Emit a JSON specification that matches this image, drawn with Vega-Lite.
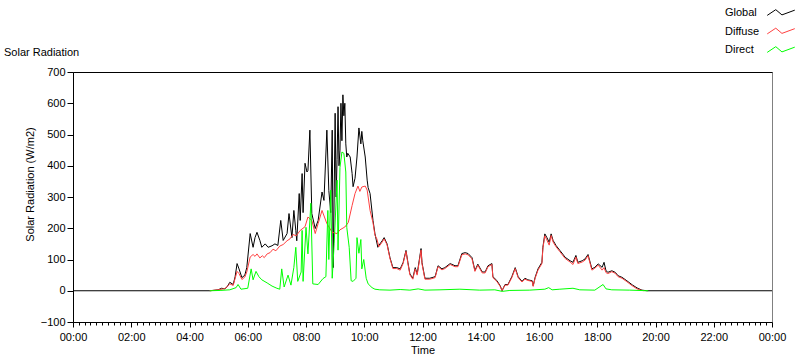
{
  "$schema": "https://vega.github.io/schema/vega-lite/v6.json",
  "width": 699,
  "height": 250,
  "autosize": {"type": "none"},
  "padding": {"left": 73, "top": 72, "right": 28, "bottom": 39},
  "background": "white",
  "title": {"text": "Solar Radiation", "anchor": "start", "frame": "group", "dx": -69, "dy": 70, "offset": 15, "fontSize": 11, "fontWeight": "normal", "font": "Liberation Sans", "color": "black"},
  "config": {
    "font": "Liberation Sans",
    "view": {"stroke": "#808080"},
    "axis": {"grid": false, "domainColor": "black", "tickColor": "black", "labelColor": "black", "titleColor": "black", "labelFontSize": 11, "titleFontSize": 11, "titleFontWeight": "normal", "labelFont": "Liberation Sans", "titleFont": "Liberation Sans"},
    "axisY": {"labelOverlap": false, "labelFlush": false},
    "line": {"strokeWidth": 1, "interpolate": "linear"}
  },
  "resolve": {"axis": {"x": "independent"}},
  "layer": [
    {
      "data": {"values": [{"m":0,"v":0},{"m":282,"v":0},{"m":299,"v":3},{"m":306,"v":8},{"m":313,"v":6},{"m":318,"v":14},{"m":323,"v":27},{"m":330,"v":20},{"m":334,"v":45},{"m":338,"v":87},{"m":342,"v":70},{"m":348,"v":42},{"m":354,"v":50},{"m":358,"v":74},{"m":365,"v":183},{"m":371,"v":139},{"m":375,"v":170},{"m":379,"v":187},{"m":385,"v":161},{"m":389,"v":139},{"m":396,"v":150},{"m":402,"v":139},{"m":410,"v":144},{"m":416,"v":150},{"m":422,"v":145},{"m":428,"v":225},{"m":433,"v":161},{"m":441,"v":183},{"m":445,"v":247},{"m":451,"v":170},{"m":455,"v":257},{"m":459,"v":193},{"m":461,"v":160},{"m":466,"v":311},{"m":468,"v":225},{"m":472,"v":375},{"m":474,"v":250},{"m":478,"v":408},{"m":482,"v":380},{"m":484,"v":385},{"m":488,"v":514},{"m":492,"v":247},{"m":499,"v":199},{"m":505,"v":225},{"m":513,"v":316},{"m":517,"v":289},{"m":523,"v":514},{"m":527,"v":321},{"m":531,"v":250},{"m":534,"v":514},{"m":536,"v":74},{"m":538,"v":300},{"m":540,"v":568},{"m":542,"v":300},{"m":544,"v":420},{"m":546,"v":589},{"m":548,"v":400},{"m":550,"v":450},{"m":552,"v":600},{"m":554,"v":480},{"m":556,"v":627},{"m":558,"v":560},{"m":560,"v":600},{"m":562,"v":470},{"m":564,"v":428},{"m":566,"v":440},{"m":571,"v":428},{"m":575,"v":375},{"m":577,"v":333},{"m":581,"v":360},{"m":585,"v":428},{"m":589,"v":521},{"m":593,"v":470},{"m":595,"v":510},{"m":597,"v":480},{"m":602,"v":428},{"m":606,"v":354},{"m":608,"v":330},{"m":612,"v":311},{"m":618,"v":225},{"m":622,"v":183},{"m":628,"v":139},{"m":630,"v":145},{"m":637,"v":160},{"m":641,"v":170},{"m":647,"v":150},{"m":653,"v":106},{"m":659,"v":74},{"m":667,"v":74},{"m":674,"v":70},{"m":680,"v":90},{"m":686,"v":129},{"m":690,"v":90},{"m":694,"v":54},{"m":700,"v":40},{"m":705,"v":74},{"m":709,"v":54},{"m":717,"v":135},{"m":719,"v":90},{"m":725,"v":40},{"m":735,"v":40},{"m":746,"v":45},{"m":752,"v":80},{"m":760,"v":70},{"m":766,"v":74},{"m":777,"v":87},{"m":787,"v":80},{"m":793,"v":80},{"m":801,"v":119},{"m":808,"v":122},{"m":814,"v":119},{"m":822,"v":106},{"m":828,"v":65},{"m":834,"v":85},{"m":843,"v":60},{"m":849,"v":60},{"m":855,"v":80},{"m":863,"v":87},{"m":865,"v":45},{"m":873,"v":33},{"m":880,"v":16},{"m":884,"v":0},{"m":890,"v":20},{"m":896,"v":20},{"m":904,"v":45},{"m":911,"v":74},{"m":917,"v":45},{"m":925,"v":30},{"m":931,"v":40},{"m":937,"v":35},{"m":946,"v":32},{"m":948,"v":16},{"m":952,"v":43},{"m":958,"v":70},{"m":966,"v":91},{"m":968,"v":139},{"m":972,"v":182},{"m":976,"v":171},{"m":981,"v":155},{"m":985,"v":182},{"m":989,"v":161},{"m":995,"v":145},{"m":1003,"v":129},{"m":1014,"v":107},{"m":1024,"v":96},{"m":1030,"v":91},{"m":1036,"v":113},{"m":1040,"v":91},{"m":1049,"v":96},{"m":1055,"v":102},{"m":1061,"v":116},{"m":1069,"v":70},{"m":1075,"v":75},{"m":1082,"v":86},{"m":1090,"v":75},{"m":1094,"v":91},{"m":1098,"v":64},{"m":1102,"v":59},{"m":1110,"v":64},{"m":1117,"v":59},{"m":1123,"v":48},{"m":1131,"v":43},{"m":1141,"v":32},{"m":1152,"v":19},{"m":1162,"v":9},{"m":1172,"v":2},{"m":1182,"v":0},{"m":1440,"v":0}]},
      "mark": {"type": "line", "clip": true},
      "encoding": {
        "x": {"field": "m", "type": "quantitative", "title": "Time",
          "scale": {"domain": [0, 1440], "nice": false, "zero": false},
          "axis": {"orient": "bottom", "values": [0,12,24,36,48,60,72,84,96,108,120,132,144,156,168,180,192,204,216,228,240,252,264,276,288,300,312,324,336,348,360,372,384,396,408,420,432,444,456,468,480,492,504,516,528,540,552,564,576,588,600,612,624,636,648,660,672,684,696,708,720,732,744,756,768,780,792,804,816,828,840,852,864,876,888,900,912,924,936,948,960,972,984,996,1008,1020,1032,1044,1056,1068,1080,1092,1104,1116,1128,1140,1152,1164,1176,1188,1200,1212,1224,1236,1248,1260,1272,1284,1296,1308,1320,1332,1344,1356,1368,1380,1392,1404,1416,1428,1440],
            "labelExpr": "datum.value % 120 === 0 ? ((floor(datum.value/60) % 24) < 10 ? '0' : '') + (floor(datum.value/60) % 24) + ':00' : ''",
            "tickSize": {"condition": {"test": "datum.value % 120 === 0", "value": 5}, "value": 3},
            "labelPadding": 4, "labelOverlap": false, "labelFlush": false, "titlePadding": 2}},
        "y": {"field": "v", "type": "quantitative", "title": "Solar Radiation (W/m2)",
          "scale": {"domain": [-100, 700], "nice": false, "zero": false},
          "axis": {"values": [-100,0,100,200,300,400,500,600,700], "tickSize": 6, "labelPadding": 2, "titlePadding": 5, "titleY": 112, "labelOverlap": false, "labelFlush": false}},
        "color": {"datum": "Global", "type": "nominal",
          "scale": {"domain": ["Global", "Diffuse", "Direct"], "range": ["#000000", "#ff4040", "#00ff00"]},
          "legend": {"orient": "none", "legendX": 653, "legendY": -69, "title": null, "direction": "vertical", "padding": 0,
            "symbolType": "M-1.45,0.25L-0.55,-0.35L0.1,0.2L1.45,-0.3", "symbolSize": 361, "symbolStrokeWidth": 1, "symbolFillColor": "transparent",
            "symbolOffset": 45, "labelOffset": -66, "rowPadding": 3.5, "labelFontSize": 11, "labelColor": "black", "labelFont": "Liberation Sans"}}
      }
    },
    {
      "data": {"values": [{"m":282,"v":0},{"m":299,"v":3},{"m":313,"v":7},{"m":323,"v":22},{"m":330,"v":17},{"m":338,"v":62},{"m":342,"v":55},{"m":348,"v":36},{"m":354,"v":44},{"m":358,"v":60},{"m":365,"v":108},{"m":371,"v":116},{"m":375,"v":110},{"m":379,"v":118},{"m":385,"v":105},{"m":390,"v":112},{"m":394,"v":106},{"m":400,"v":118},{"m":406,"v":122},{"m":412,"v":133},{"m":418,"v":128},{"m":426,"v":143},{"m":433,"v":148},{"m":441,"v":160},{"m":447,"v":166},{"m":453,"v":180},{"m":460,"v":176},{"m":468,"v":193},{"m":478,"v":205},{"m":484,"v":236},{"m":492,"v":225},{"m":499,"v":183},{"m":505,"v":215},{"m":513,"v":257},{"m":523,"v":215},{"m":534,"v":187},{"m":544,"v":183},{"m":550,"v":195},{"m":560,"v":204},{"m":567,"v":218},{"m":575,"v":273},{"m":581,"v":311},{"m":587,"v":335},{"m":591,"v":318},{"m":595,"v":332},{"m":602,"v":335},{"m":606,"v":322},{"m":612,"v":257},{"m":618,"v":218},{"m":622,"v":178},{"m":626,"v":166},{"m":630,"v":141},{"m":637,"v":156},{"m":641,"v":166},{"m":647,"v":147},{"m":653,"v":103},{"m":659,"v":71},{"m":667,"v":71},{"m":674,"v":66},{"m":680,"v":87},{"m":686,"v":126},{"m":690,"v":87},{"m":694,"v":51},{"m":700,"v":37},{"m":705,"v":70},{"m":709,"v":50},{"m":717,"v":130},{"m":719,"v":86},{"m":725,"v":37},{"m":735,"v":37},{"m":746,"v":42},{"m":752,"v":77},{"m":760,"v":67},{"m":766,"v":71},{"m":777,"v":84},{"m":787,"v":77},{"m":793,"v":77},{"m":801,"v":115},{"m":808,"v":118},{"m":814,"v":115},{"m":822,"v":102},{"m":828,"v":62},{"m":834,"v":82},{"m":843,"v":57},{"m":849,"v":57},{"m":855,"v":77},{"m":863,"v":84},{"m":865,"v":42},{"m":873,"v":30},{"m":880,"v":14},{"m":884,"v":1},{"m":890,"v":18},{"m":896,"v":18},{"m":904,"v":42},{"m":911,"v":71},{"m":917,"v":42},{"m":925,"v":28},{"m":931,"v":37},{"m":937,"v":33},{"m":946,"v":30},{"m":948,"v":14},{"m":952,"v":40},{"m":958,"v":66},{"m":966,"v":87},{"m":968,"v":135},{"m":972,"v":176},{"m":976,"v":163},{"m":981,"v":146},{"m":985,"v":177},{"m":989,"v":156},{"m":995,"v":141},{"m":1003,"v":125},{"m":1014,"v":103},{"m":1024,"v":92},{"m":1030,"v":84},{"m":1036,"v":108},{"m":1040,"v":87},{"m":1049,"v":92},{"m":1055,"v":98},{"m":1061,"v":112},{"m":1069,"v":66},{"m":1075,"v":72},{"m":1082,"v":82},{"m":1090,"v":66},{"m":1094,"v":74},{"m":1098,"v":58},{"m":1102,"v":55},{"m":1110,"v":61},{"m":1117,"v":56},{"m":1123,"v":45},{"m":1131,"v":40},{"m":1141,"v":29},{"m":1152,"v":16},{"m":1162,"v":6},{"m":1172,"v":1},{"m":1177,"v":0}]},
      "mark": {"type": "line", "clip": true},
      "encoding": {
        "x": {"field": "m", "type": "quantitative", "axis": {"orient": "top", "labels": false, "ticks": false, "title": null, "domainColor": "black"}},
        "y": {"field": "v", "type": "quantitative", "title": "Solar Radiation (W/m2)", "axis": {"values": [-100,0,100,200,300,400,500,600,700], "tickSize": 6, "labelPadding": 2, "titlePadding": 5, "titleY": 112, "labelOverlap": false, "labelFlush": false}},
        "color": {"datum": "Diffuse", "type": "nominal"}
      }
    },
    {
      "data": {"values": [{"m":282,"v":0},{"m":303,"v":1},{"m":323,"v":3},{"m":336,"v":10},{"m":340,"v":20},{"m":346,"v":5},{"m":360,"v":8},{"m":367,"v":70},{"m":371,"v":35},{"m":377,"v":62},{"m":383,"v":45},{"m":389,"v":35},{"m":400,"v":25},{"m":410,"v":15},{"m":420,"v":8},{"m":426,"v":5},{"m":430,"v":70},{"m":435,"v":12},{"m":443,"v":50},{"m":449,"v":18},{"m":455,"v":75},{"m":459,"v":139},{"m":463,"v":30},{"m":470,"v":60},{"m":472,"v":193},{"m":474,"v":30},{"m":480,"v":203},{"m":484,"v":118},{"m":490,"v":280},{"m":494,"v":22},{"m":505,"v":20},{"m":515,"v":39},{"m":521,"v":45},{"m":525,"v":257},{"m":527,"v":100},{"m":531,"v":322},{"m":534,"v":40},{"m":538,"v":150},{"m":544,"v":354},{"m":546,"v":130},{"m":550,"v":395},{"m":554,"v":444},{"m":558,"v":440},{"m":562,"v":380},{"m":564,"v":203},{"m":569,"v":139},{"m":573,"v":32},{"m":577,"v":30},{"m":583,"v":40},{"m":585,"v":170},{"m":589,"v":120},{"m":593,"v":164},{"m":595,"v":70},{"m":599,"v":100},{"m":604,"v":40},{"m":608,"v":22},{"m":616,"v":10},{"m":622,"v":5},{"m":632,"v":3},{"m":653,"v":2},{"m":674,"v":4},{"m":694,"v":2},{"m":711,"v":6},{"m":725,"v":2},{"m":756,"v":3},{"m":797,"v":5},{"m":838,"v":2},{"m":869,"v":3},{"m":884,"v":-2},{"m":900,"v":1},{"m":941,"v":2},{"m":972,"v":5},{"m":980,"v":10},{"m":987,"v":3},{"m":1003,"v":5},{"m":1030,"v":8},{"m":1044,"v":3},{"m":1075,"v":2},{"m":1092,"v":20},{"m":1098,"v":6},{"m":1110,"v":3},{"m":1147,"v":2},{"m":1185,"v":0}]},
      "mark": {"type": "line", "clip": true},
      "encoding": {
        "x": {"field": "m", "type": "quantitative", "axis": null},
        "y": {"field": "v", "type": "quantitative", "title": "Solar Radiation (W/m2)", "axis": {"values": [-100,0,100,200,300,400,500,600,700], "tickSize": 6, "labelPadding": 2, "titlePadding": 5, "titleY": 112, "labelOverlap": false, "labelFlush": false}},
        "color": {"datum": "Direct", "type": "nominal"}
      }
    }
  ]
}
